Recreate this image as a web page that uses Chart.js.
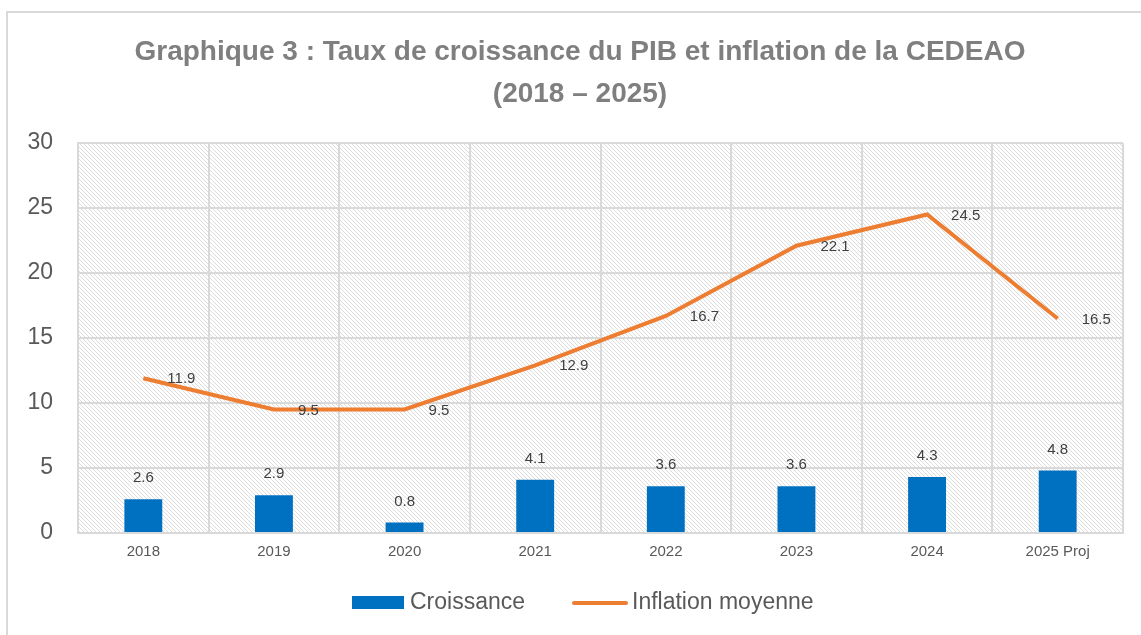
<!DOCTYPE html>
<html>
<head>
<meta charset="utf-8">
<script src="https://cdn.jsdelivr.net/npm/chart.js@4/dist/chart.umd.min.js"></script>
<style>
  html, body { margin: 0; padding: 0; background: #fff; }
  #wrap { width: 1141px; height: 635px; }
</style>
</head>
<body>
<div id="wrap"><canvas id="chart" width="1141" height="635"></canvas></div>
<script>
// donnees
const annees = ["2018", "2019", "2020", "2021", "2022", "2023", "2024", "2025 Proj"];
const croissance = [2.6, 2.9, 0.8, 4.1, 3.6, 3.6, 4.3, 4.8];
const inflation = [11.9, 9.5, 9.5, 12.9, 16.7, 22.1, 24.5, 16.5];
const titre = ["Graphique 3 : Taux de croissance du PIB et inflation de la CEDEAO", "(2018 – 2025)"];

const bleu = "#0070C0";
const orange = "#ED7D31";
const gris = "#595959";
const FONT = "'Liberation Sans', Arial, sans-serif";

// motif hachure pour le fond de la zone de trace
function makeHatch() {
    const c = document.createElement("canvas");
    c.width = 4; c.height = 4;
    const g = c.getContext("2d");
    const img = g.createImageData(4, 4);
    for (let y = 0; y < 4; y++) {
        for (let x = 0; x < 4; x++) {
            const i = (y * 4 + x) * 4;
            const on = ((x - y + 4) % 4) === 0;
            const v = on ? 220 : 255;
            img.data[i] = v; img.data[i + 1] = v; img.data[i + 2] = v; img.data[i + 3] = 255;
        }
    }
    g.putImageData(img, 0, 0);
    return c;
}
const hatchCanvas = makeHatch();

const fondPlugin = {
    id: "fond",
    beforeDraw(chart) {
        const ctx = chart.ctx;
        const a = chart.chartArea;
        ctx.save();
        // cadre exterieur
        ctx.strokeStyle = "#D9D9D9";
        ctx.lineWidth = 2;
        ctx.strokeRect(7, 12, 1200, 700);
        // hachures
        ctx.fillStyle = ctx.createPattern(hatchCanvas, "repeat");
        ctx.fillRect(a.left, a.top, a.right - a.left, a.bottom - a.top);
        // titre (centre sur le cadre, pas sur la zone de trace)
        ctx.fillStyle = "#7F7F7F";
        ctx.font = "bold 28px " + FONT;
        ctx.textAlign = "center";
        ctx.textBaseline = "alphabetic";
        ctx.fillText(titre[0], 580, 60);
        ctx.fillText(titre[1], 580, 102);
        ctx.restore();
    }
};

// etiquettes de valeurs + legende
const etiquettesPlugin = {
    id: "etiquettes",
    afterDatasetsDraw(chart) {
        const ctx = chart.ctx;
        ctx.save();
        ctx.font = "15px " + FONT;
        ctx.fillStyle = "#404040";
        const barMeta = chart.getDatasetMeta(0);
        ctx.textAlign = "center";
        ctx.textBaseline = "middle";
        barMeta.data.forEach((el, i) => {
            ctx.fillText(croissance[i].toFixed(1), el.x, el.y - 21);
        });
        const lineMeta = chart.getDatasetMeta(1);
        ctx.textAlign = "left";
        lineMeta.data.forEach((el, i) => {
            ctx.fillText(inflation[i].toFixed(1), el.x + 24, el.y + 1);
        });

        // legende
        const y = 603;
        ctx.font = "23px " + FONT;
        ctx.textBaseline = "middle";
        ctx.fillStyle = bleu;
        ctx.fillRect(352, y - 7, 52, 13);
        ctx.fillStyle = gris;
        ctx.fillText(chart.data.datasets[0].label, 410, y);
        ctx.strokeStyle = orange;
        ctx.lineWidth = 4;
        ctx.lineCap = "round";
        ctx.beginPath();
        ctx.moveTo(574, y);
        ctx.lineTo(626, y);
        ctx.stroke();
        ctx.fillText(chart.data.datasets[1].label, 632, y);
        ctx.restore();
    }
};

new Chart(document.getElementById("chart"), {
    data: {
        labels: annees,
        datasets: [
            {
                type: "bar",
                label: "Croissance",
                data: croissance,
                backgroundColor: bleu,
                barPercentage: 0.29,
                categoryPercentage: 1,
                order: 2
            },
            {
                type: "line",
                label: "Inflation moyenne",
                data: inflation,
                borderColor: orange,
                borderWidth: 4,
                pointRadius: 0,
                tension: 0,
                order: 1
            }
        ]
    },
    options: {
        responsive: false,
        animation: false,
        layout: { padding: { left: 0, right: 18, top: 143, bottom: 62 } },
        plugins: {
            legend: { display: false },
            tooltip: { enabled: false },
            title: { display: false }
        },
        scales: {
            x: {
                offset: true,
                grid: { offset: true, color: "#D9D9D9", lineWidth: 2, drawTicks: false },
                border: { color: "#D9D9D9", width: 2 },
                ticks: { color: gris, font: { family: FONT, size: 15 }, padding: 10, maxRotation: 0 },
                afterFit(scale) { scale.height = 40; }
            },
            y: {
                min: 0,
                max: 30,
                ticks: { stepSize: 5, color: gris, font: { family: FONT, size: 23 }, padding: 25 },
                grid: { color: "#D9D9D9", lineWidth: 2, drawTicks: false },
                border: { color: "#D9D9D9", width: 2 },
                afterFit(scale) { scale.width = 78; }
            }
        }
    },
    plugins: [fondPlugin, etiquettesPlugin]
});
</script>
</body>
</html>
